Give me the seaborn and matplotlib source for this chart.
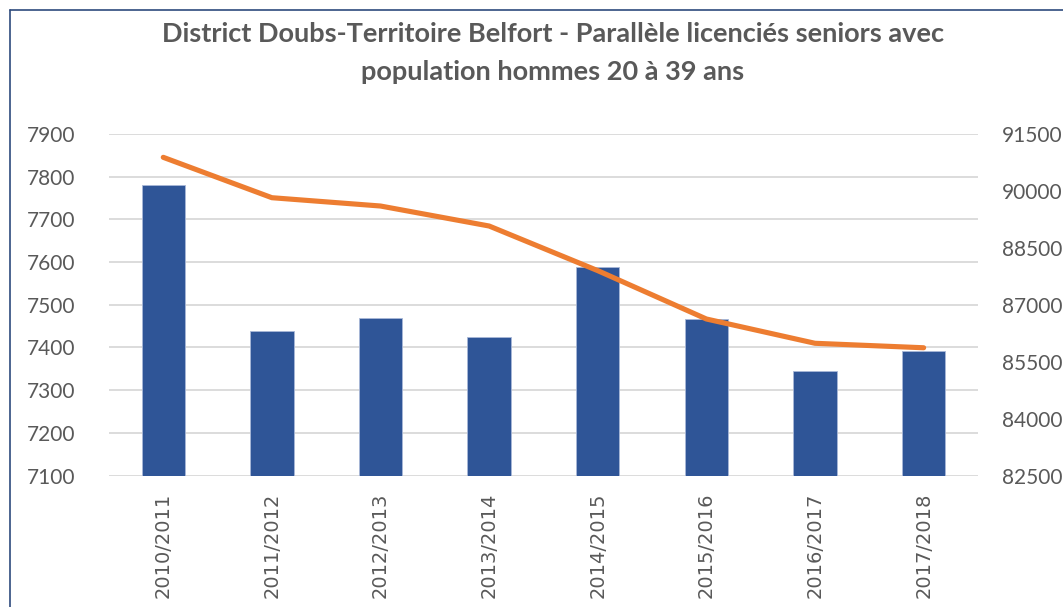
import matplotlib
matplotlib.use("Agg")
import matplotlib.pyplot as plt
from matplotlib.lines import Line2D
import seaborn as sns
import pandas as pd

seasons = ["2010/2011", "2011/2012", "2012/2013", "2013/2014",
           "2014/2015", "2015/2016", "2016/2017", "2017/2018"]
licencies = [7780, 7439, 7469, 7425, 7589, 7466, 7346, 7392]
population = [90886, 89822, 89603, 89076, 87900, 86626, 85986, 85868]

left_ticks = list(range(7100, 8000, 100))
right_ticks = list(range(82500, 92000, 1500))

df = pd.DataFrame({"saison": seasons, "licencies": licencies, "population": population})

sns.set_theme(style="white")
plt.rcParams["font.family"] = ["Lato", "DejaVu Sans"]

grey = "#595959"
fig = plt.figure(figsize=(10.63, 6.07), dpi=100)
ax = fig.add_axes([0.1025, 0.2165, 0.8175, 0.5627])

sns.barplot(data=df, x="saison", y="licencies", color="#2F5597", saturation=1,
            width=0.4, edgecolor="#A8B8D8", linewidth=0.6, ax=ax, zorder=2)
ax.set_ylim(7100, 7900)
ax.set_yticks(left_ticks)
ax.set_xlim(-0.5, len(seasons) - 0.5)
ax.yaxis.grid(True, color="#D9D9D9", linewidth=1.3, zorder=0)
ax.set_axisbelow(True)

ax2 = ax.twinx()
sns.lineplot(data=df, x="saison", y="population", color="#ED7D31", linewidth=3.7,
             ax=ax2, sort=False, solid_capstyle="round", solid_joinstyle="round")
ax2.set_ylim(82500, 91500)
ax2.set_yticks(right_ticks)
ax2.set_xlim(-0.5, len(seasons) - 0.5)

for a in (ax, ax2):
    for s in a.spines.values():
        s.set_visible(False)
    a.set_xlabel("")
    a.set_ylabel("")
    a.tick_params(axis="both", length=0, colors=grey, labelsize=15)

ax.tick_params(axis="y", pad=24)
ax2.tick_params(axis="y", pad=17)
ax.set_xticks(range(len(seasons)))
ax.set_xticklabels(seasons, rotation=90, family="DejaVu Sans", fontsize=14, color=grey)
ax.tick_params(axis="x", pad=12)

fig.text(0.52, 0.963, "District Doubs-Territoire Belfort - Parallèle licenciés seniors avec\npopulation hommes 20 à 39 ans",
         ha="center", va="top", fontsize=19.5, fontweight="bold", color=grey, linespacing=1.68)

# cadre
fig.add_artist(Line2D([10 / 1063, 1], [1 - 10 / 607, 1 - 10 / 607], color="#2E4A7D", lw=1.2))
fig.add_artist(Line2D([10 / 1063, 10 / 1063], [0, 1 - 10 / 607], color="#2E4A7D", lw=1.2))

fig.savefig("out.png", dpi=100)
